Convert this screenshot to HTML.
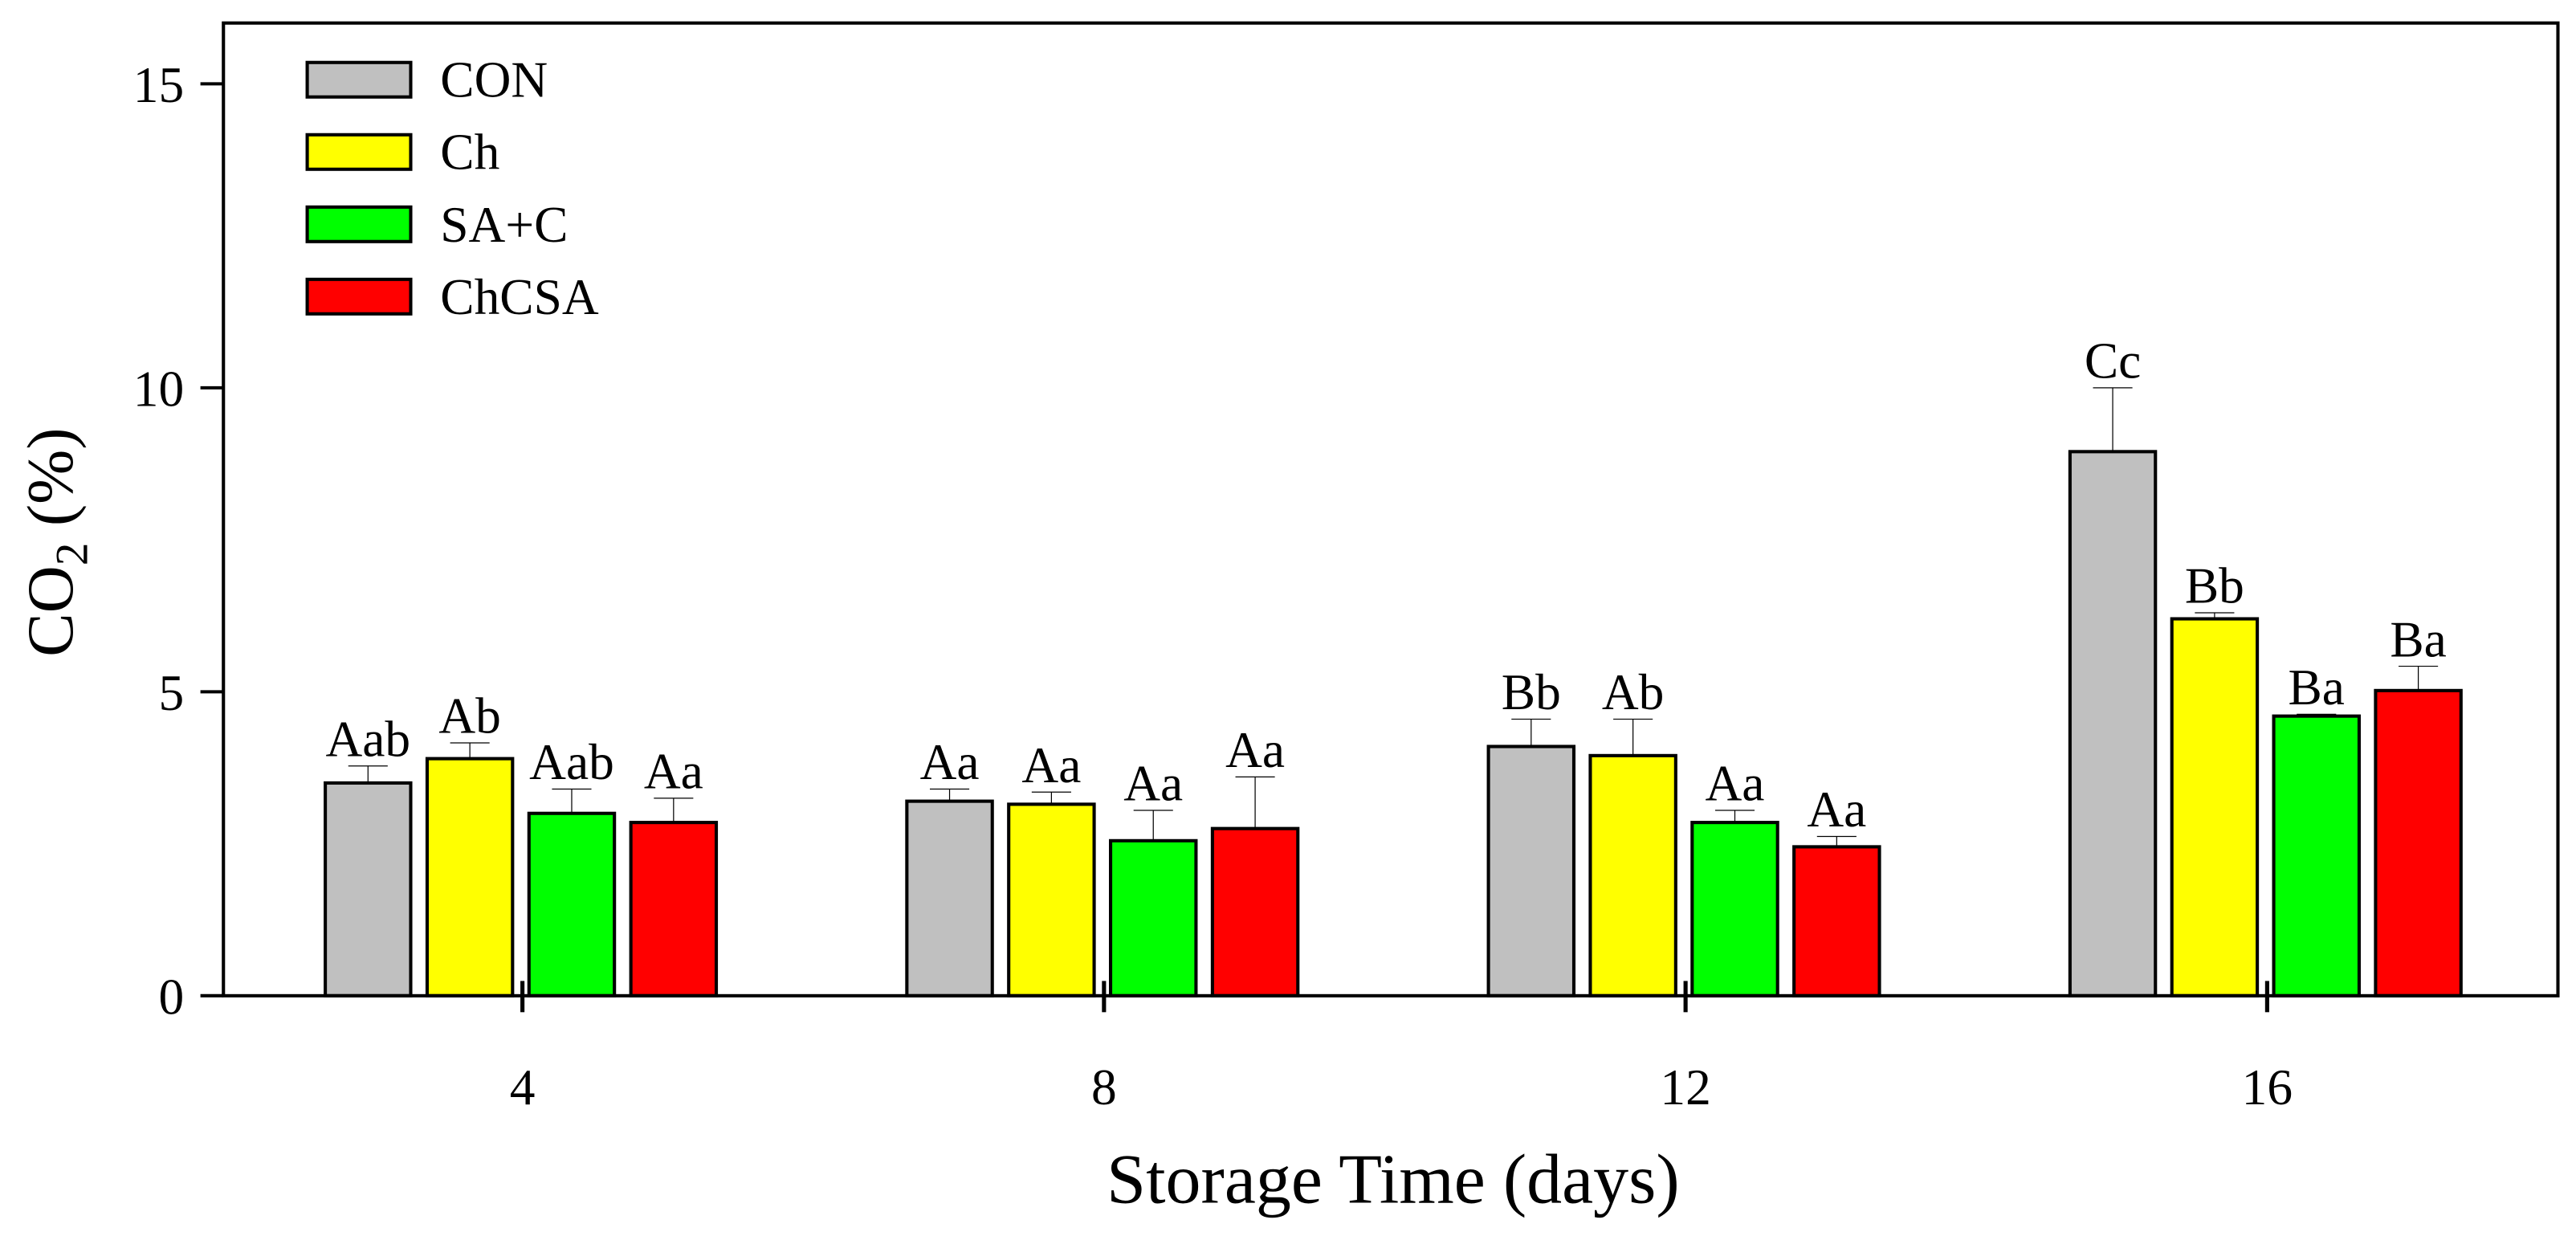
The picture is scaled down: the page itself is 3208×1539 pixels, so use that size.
<!DOCTYPE html>
<html><head><meta charset="utf-8"><style>
html,body{margin:0;padding:0;background:#fff;}
svg{display:block;}
text{font-family:"Liberation Serif","DejaVu Serif",serif;fill:#000;}
</style></head><body>
<svg id="chart" width="3208" height="1539" viewBox="0 0 1568 752.2" xmlns="http://www.w3.org/2000/svg">
<g id="plot"></g>
</svg>
<script>
const days = ["4","8","12","16"];
const series = ["CON","Ch","SA+C","ChCSA"];
const colors = ["#c0c0c0","#ffff00","#00ff00","#ff0000"];
const valCON = [3.5, 3.2, 4.1, 8.95];
const valCh = [3.9, 3.15, 3.95, 6.2];
const valSAC = [3.0, 2.55, 2.85, 4.6];
const valChCSA = [2.85, 2.75, 2.45, 5.02];
const errCON = [0.28, 0.2, 0.45, 1.05];
const errCh = [0.26, 0.2, 0.6, 0.1];
const errSAC = [0.4, 0.5, 0.2, 0.03];
const errChCSA = [0.4, 0.85, 0.17, 0.4];
const lblCON = ["Aab","Aa","Bb","Cc"];
const lblCh = ["Ab","Aa","Ab","Bb"];
const lblSAC = ["Aab","Aa","Aa","Ba"];
const lblChCSA = ["Aa","Aa","Aa","Ba"];
const yTicks = [0,5,10,15];

const vals=[valCON,valCh,valSAC,valChCSA], errs=[errCON,errCh,errSAC,errChCSA], lbls=[lblCON,lblCh,lblSAC,lblChCSA];
const L=136,R=1557,T=14,B=606,yMax=16;
const y=v=>B-(v/yMax)*(B-T);
const x=i=>318+i*354;
const NS="http://www.w3.org/2000/svg";
const g=document.getElementById('plot');
function mk(tag,a,p){const e=document.createElementNS(NS,tag);for(const k in a)e.setAttribute(k,a[k]);(p||g).appendChild(e);return e;}

for(let s=0;s<4;s++){for(let i=0;i<4;i++){
  const bx=x(i)-120+s*62, w=52, v=vals[s][i], e=errs[s][i];
  const top=y(v+e);
  const el=mk('line',{x1:bx+w/2,x2:bx+w/2,y1:y(v),y2:top,stroke:'#000','stroke-width':0.6});
  
  
  const cap=mk('line',{x1:bx+w/2-12,x2:bx+w/2+12,y1:top,y2:top,stroke:'#000','stroke-width':0.6});
  
  
  const r=mk('rect',{x:bx,y:y(v),width:w,height:B-y(v),fill:colors[s],stroke:'#000','stroke-width':2});
  
  
  const t=mk('text',{x:bx+w/2,y:top-6,'text-anchor':'middle','font-size':31});
  t.textContent=lbls[s][i];
  
  
}}
const fr=mk('rect',{x:L,y:T,width:R-L,height:B-T,fill:'none',stroke:'#000','stroke-width':2});


yTicks.forEach(v=>{
  const tk=mk('line',{x1:L-14,x2:L,y1:y(v),y2:y(v),stroke:'#000','stroke-width':2});
  
  
  const t=mk('text',{x:L-24,y:y(v)+11,'text-anchor':'end','font-size':31});
  t.textContent=v;
  
  
});
days.forEach((d,i)=>{
  const tk=mk('line',{x1:x(i),x2:x(i),y1:B-9,y2:B+10,stroke:'#000','stroke-width':2.5});
  
  
  const t=mk('text',{x:x(i),y:B+66,'text-anchor':'middle','font-size':31});
  t.textContent=d;
  
  
});
series.forEach((s,k)=>{
  const cy=48+k*44;
  const r=mk('rect',{x:187,y:cy-10,width:63,height:21,fill:colors[k],stroke:'#000','stroke-width':2});
  
  
  const t=mk('text',{x:268,y:cy+11,'font-size':31});
  t.textContent=s;
  
  
});
const yt=mk('text',{transform:'translate(44,330) rotate(-90)','text-anchor':'middle','font-size':40});
yt.innerHTML='CO<tspan font-size="28" dy="9">2</tspan><tspan dy="-9"> (%)</tspan>';


const xt=mk('text',{x:848,y:732,'text-anchor':'middle','font-size':43});
xt.textContent='Storage Time (days)';


</script>
</body></html>
